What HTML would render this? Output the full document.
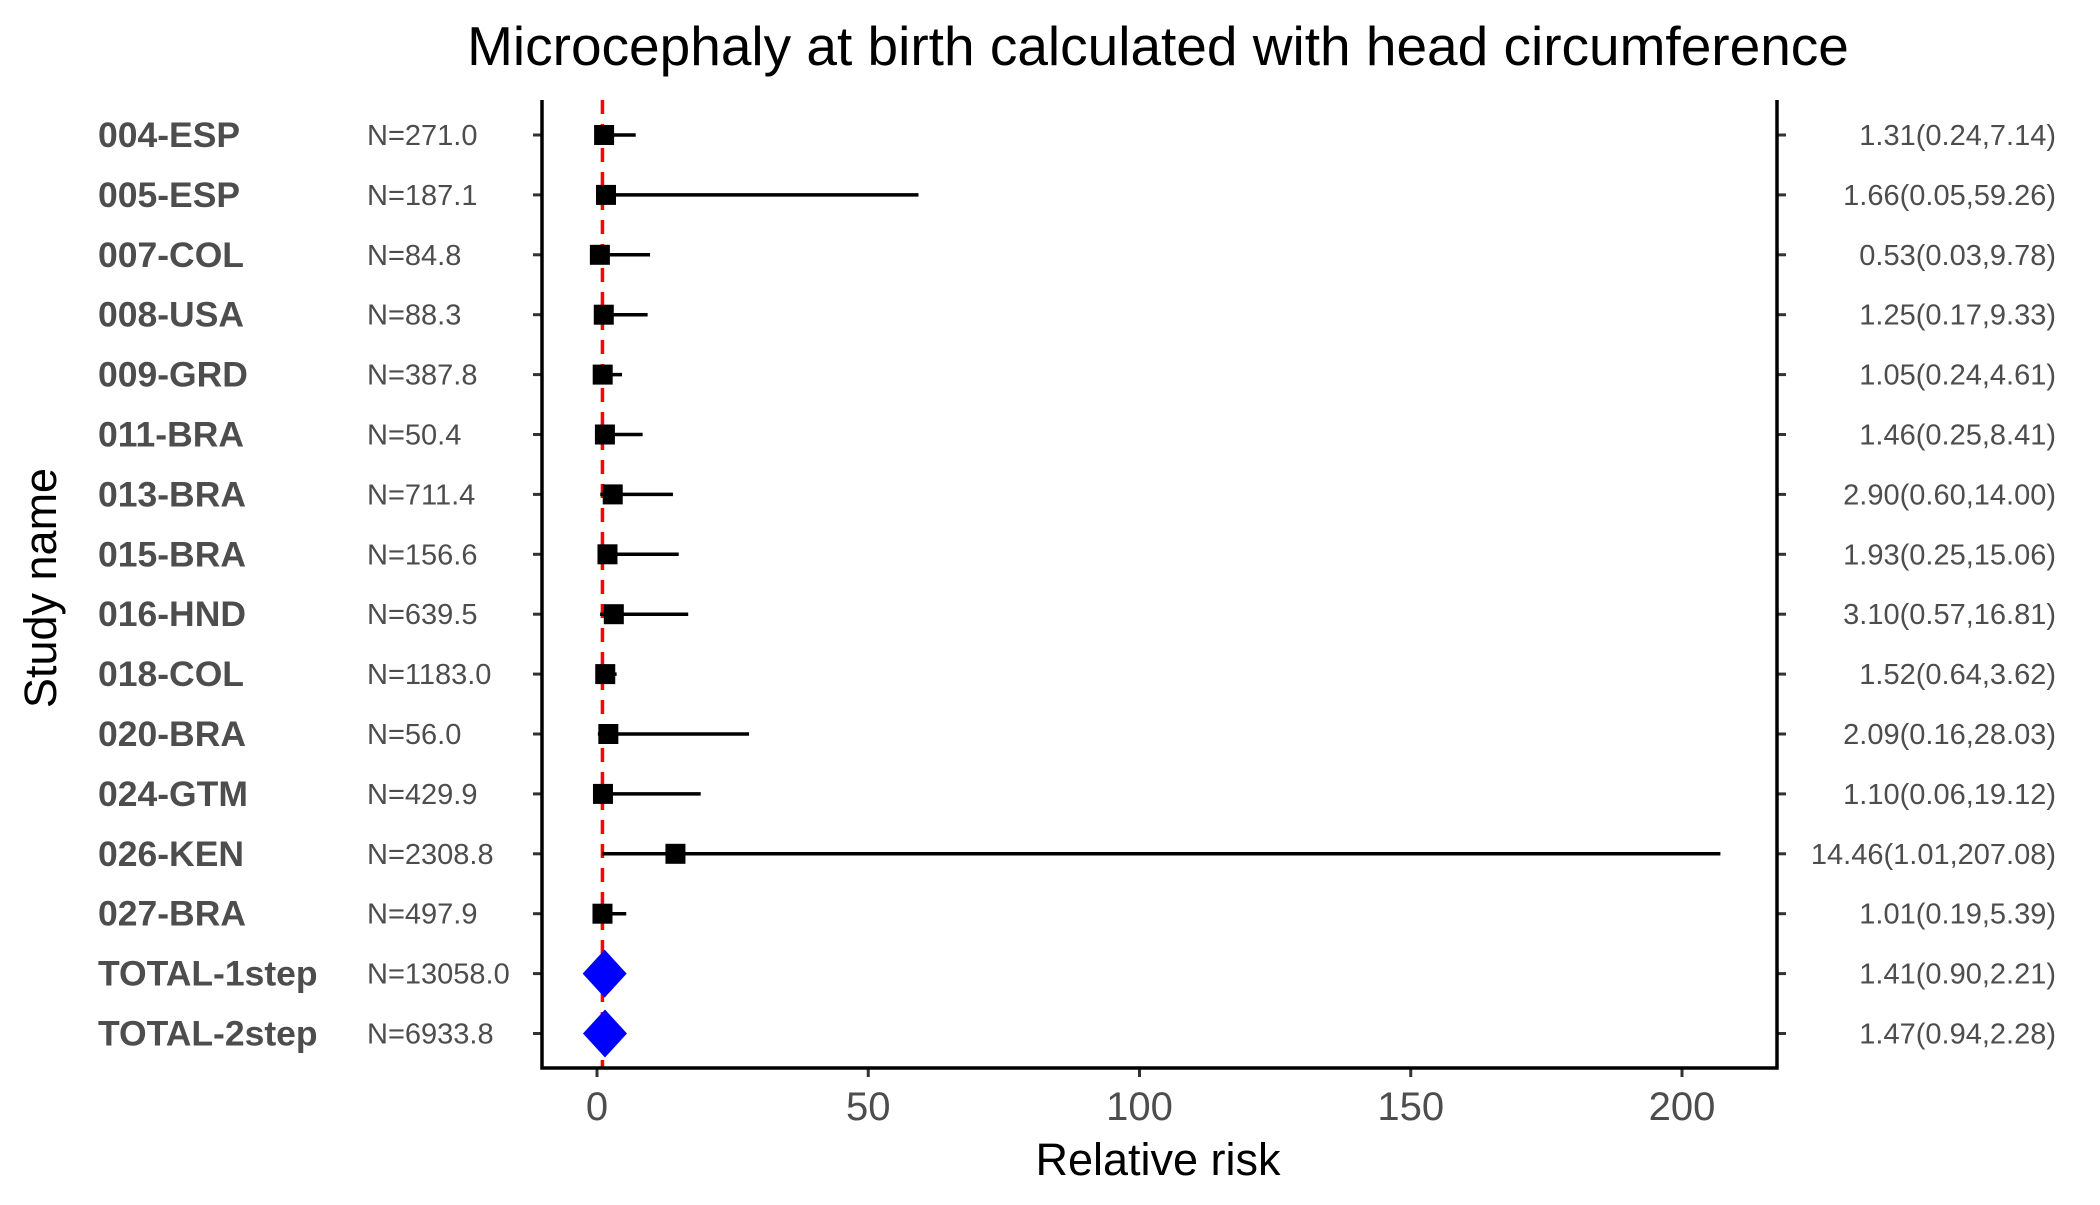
<!DOCTYPE html>
<html><head><meta charset="utf-8"><style>
body{margin:0;background:#fff}
svg text{font-family:"Liberation Sans",sans-serif}
</style></head><body>
<svg id="c" width="2100" height="1200" xmlns="http://www.w3.org/2000/svg">
<text x="1158" y="65" font-size="55" text-anchor="middle" fill="#000">Microcephaly at birth calculated with head circumference</text>
<text transform="translate(56,588) rotate(-90)" font-size="45" text-anchor="middle" fill="#000">Study name</text>
<text x="1158" y="1175" font-size="45" text-anchor="middle" fill="#000">Relative risk</text>
<g id="plot"></g>
</svg>
<script>
const studies=["004-ESP","005-ESP","007-COL","008-USA","009-GRD","011-BRA","013-BRA","015-BRA","016-HND","018-COL","020-BRA","024-GTM","026-KEN","027-BRA","TOTAL-1step","TOTAL-2step"];
const nLabels=["N=271.0","N=187.1","N=84.8","N=88.3","N=387.8","N=50.4","N=711.4","N=156.6","N=639.5","N=1183.0","N=56.0","N=429.9","N=2308.8","N=497.9","N=13058.0","N=6933.8"];
const est=[1.31,1.66,0.53,1.25,1.05,1.46,2.90,1.93,3.10,1.52,2.09,1.10,14.46,1.01,1.41,1.47];
const lo=[0.24,0.05,0.03,0.17,0.24,0.25,0.60,0.25,0.57,0.64,0.16,0.06,1.01,0.19,0.90,0.94];
const hi=[7.14,59.26,9.78,9.33,4.61,8.41,14.00,15.06,16.81,3.62,28.03,19.12,207.08,5.39,2.21,2.28];
const xTicks=[0,50,100,150,200];
const NS="http://www.w3.org/2000/svg";
const g=document.getElementById('plot');
const L=542,R=1777,T=100,B=1068;
const x=v=>597+(v/200)*(1682-597);
const y=i=>135+i*59.9;
function mk(t,a,txt){const e=document.createElementNS(NS,t);for(const k in a)e.setAttribute(k,a[k]);if(txt!==undefined)e.textContent=txt;g.appendChild(e);return e;}
let e=mk('line',{x1:x(1),x2:x(1),y1:T,y2:B,stroke:'#ff0000','stroke-width':3.5,'stroke-dasharray':'14,10'});


studies.forEach((s,i)=>{
  const yy=y(i), total=s.startsWith('TOTAL');
  let t=mk('text',{x:98,y:yy+12,'font-size':35.5,'font-weight':'bold',fill:'#4d4d4d'},s);
  
  
  t=mk('text',{x:367,y:yy+10,'font-size':29,fill:'#4d4d4d'},nLabels[i]);
  
  
  t=mk('text',{x:2056,y:yy+10,'font-size':29,fill:'#4d4d4d','text-anchor':'end'},est[i].toFixed(2)+'('+lo[i].toFixed(2)+','+hi[i].toFixed(2)+')');
  
  
  t=mk('line',{x1:L-9,x2:L,y1:yy,y2:yy,stroke:'#333','stroke-width':3});
  
  
  t=mk('line',{x1:R,x2:R+9,y1:yy,y2:yy,stroke:'#333','stroke-width':3});
  
  
  if(total){
    const cx=x(est[i]);
    t=mk('polygon',{points:`${cx-22},${yy} ${cx},${yy-24} ${cx+22},${yy} ${cx},${yy+24}`,fill:'#0000ff'});
    
    
  } else {
    t=mk('line',{x1:x(lo[i]),x2:x(hi[i]),y1:yy,y2:yy,stroke:'#000','stroke-width':3.5});
    
    
    t=mk('rect',{x:x(est[i])-10,y:yy-10,width:20,height:20,fill:'#000'});
    
    
  }
});
xTicks.forEach(v=>{
  let t=mk('line',{x1:x(v),x2:x(v),y1:B,y2:B+9,stroke:'#333','stroke-width':3});
  
  
  t=mk('text',{x:x(v),y:B+52,'font-size':40,fill:'#4d4d4d','text-anchor':'middle'},String(v));
  
  
});
e=mk('path',{d:`M${L},${T} V${B} H${R} V${T}`,fill:'none',stroke:'#000','stroke-width':3.5});


</script>
</body></html>
